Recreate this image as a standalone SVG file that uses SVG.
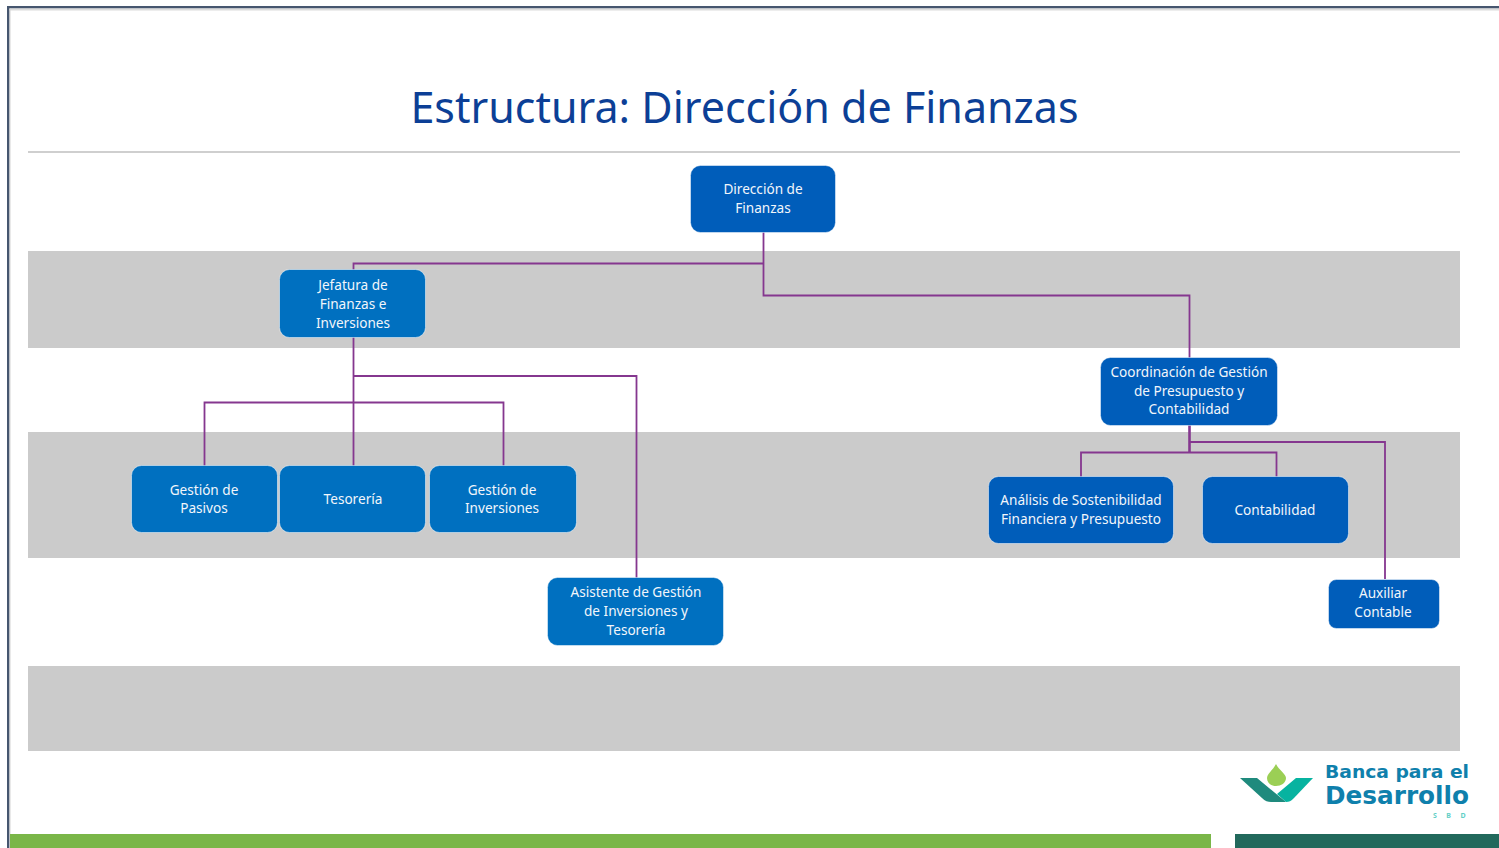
<svg xmlns="http://www.w3.org/2000/svg" width="1499" height="848" viewBox="0 0 1499 848">
<style>
text{font-family:"Noto Sans","Open Sans","DejaVu Sans",sans-serif}
.band{fill:#cbcbcb}
.a{fill:#005dba}
.b{fill:#0070c0}
.n rect{stroke:#fff;stroke-opacity:.5;stroke-width:1}
.n text{fill:#f2f6fb;font-size:13.6px;text-anchor:middle}
.c{fill:none;stroke:#85378f;stroke-width:1.8}
.logo{font-family:"DejaVu Sans",sans-serif;font-weight:700;fill:#0f80ac}
</style>
<rect width="1499" height="848" fill="#fff"/>
<g id="frame">
<rect x="7" y="6" width="1492" height="2.500" fill="#46566f"/>
<rect x="7" y="6" width="2.500" height="842" fill="#46566f"/>
<rect x="9.500" y="8.500" width="1489.500" height="2" fill="#dcdcdc"/>
<rect x="9.500" y="8.500" width="1" height="839.500" fill="#d4d4d4"/>
</g>
<text x="744.500" y="123" font-size="43" fill="#0c3f96" text-anchor="middle">Estructura: Dirección de Finanzas</text>
<rect x="28" y="151" width="1432" height="2" fill="#cfcfcf"/>
<g id="bands">
<rect class="band" x="28" y="251" width="1432" height="97"/>
<rect class="band" x="28" y="432" width="1432" height="126"/>
<rect class="band" x="28" y="666" width="1432" height="85"/>
</g>
<g id="connectors">
<path class="c" d="M763.500 232V295.500H1189.500V358"/>
<path class="c" d="M763.500 263.500H353.500V270"/>
<path class="c" d="M353.500 337V466"/>
<path class="c" d="M353.500 376H636.500V578"/>
<path class="c" d="M204.500 466V402.500H503.500V466"/>
<path class="c" style="stroke-width:2.600" d="M1189.500 425V452.500"/>
<path class="c" d="M1081 477V452.500H1276.500V477"/>
<path class="c" d="M1189.500 442H1385V579"/>
</g>
<g id="n1" class="n"><rect class="a" x="690.500" y="165.500" width="145" height="67" rx="10"/><text x="763" y="194">Dirección de</text><text x="763" y="213">Finanzas</text></g>
<g id="n2" class="n"><rect class="b" x="279.500" y="269.500" width="146" height="68" rx="10"/><text x="353" y="290">Jefatura de</text><text x="353" y="309">Finanzas e</text><text x="353" y="328">Inversiones</text></g>
<g id="n3" class="n"><rect class="a" x="1100.500" y="357.500" width="177" height="68" rx="10"/><text x="1189" y="377">Coordinación de Gestión</text><text x="1189" y="396">de Presupuesto y</text><text x="1189" y="414">Contabilidad</text></g>
<g id="n4" class="n"><rect class="b" x="131.500" y="465.500" width="146" height="67" rx="10"/><text x="204" y="495">Gestión de</text><text x="204" y="513">Pasivos</text></g>
<g id="n5" class="n"><rect class="b" x="279.500" y="465.500" width="146" height="67" rx="10"/><text x="353" y="504">Tesorería</text></g>
<g id="n6" class="n"><rect class="b" x="429.500" y="465.500" width="147" height="67" rx="10"/><text x="502" y="495">Gestión de</text><text x="502" y="513">Inversiones</text></g>
<g id="n7" class="n"><rect class="a" x="988.500" y="476.500" width="185" height="67" rx="10"/><text x="1081" y="505">Análisis de Sostenibilidad</text><text x="1081" y="524">Financiera y Presupuesto</text></g>
<g id="n8" class="n"><rect class="a" x="1202.500" y="476.500" width="146" height="67" rx="10"/><text x="1275" y="515">Contabilidad</text></g>
<g id="n9" class="n"><rect class="b" x="547.500" y="577.500" width="176" height="68" rx="10"/><text x="636" y="597">Asistente de Gestión</text><text x="636" y="616">de Inversiones y</text><text x="636" y="635">Tesorería</text></g>
<g id="n10" class="n"><rect class="a" x="1328.500" y="579.500" width="111" height="49" rx="8"/><text x="1383" y="598">Auxiliar</text><text x="1383" y="617">Contable</text></g>
<g id="logo">
<path d="M1276 764C1279 770 1286 774 1286 778C1286 783 1281 786 1276 786C1271 786 1267 783 1267 778C1267 774 1273 770 1276 764Z" fill="#9bcf55"/>
<path d="M1240 778H1257L1286 802H1271C1268 802 1265 801 1262 798Z" fill="#1f8a7d"/>
<path d="M1313 778H1296L1277 794L1286 802C1289 802 1291 801 1294 798Z" fill="#07b3a0"/>
<text class="logo" x="1325" y="778" font-size="17" textLength="144" lengthAdjust="spacingAndGlyphs">Banca para el</text>
<text class="logo" x="1325" y="804" font-size="25" textLength="144" lengthAdjust="spacingAndGlyphs">Desarrollo</text>
<text x="1433" y="818" font-size="7" fill="#62cfc6" font-weight="700" letter-spacing="9.500">SBD</text>
</g>
<g id="footer">
<rect x="10" y="834" width="1201" height="14" fill="#7ab648"/>
<rect x="1235" y="834" width="264" height="14" fill="#22695c"/>
</g>
</svg>
